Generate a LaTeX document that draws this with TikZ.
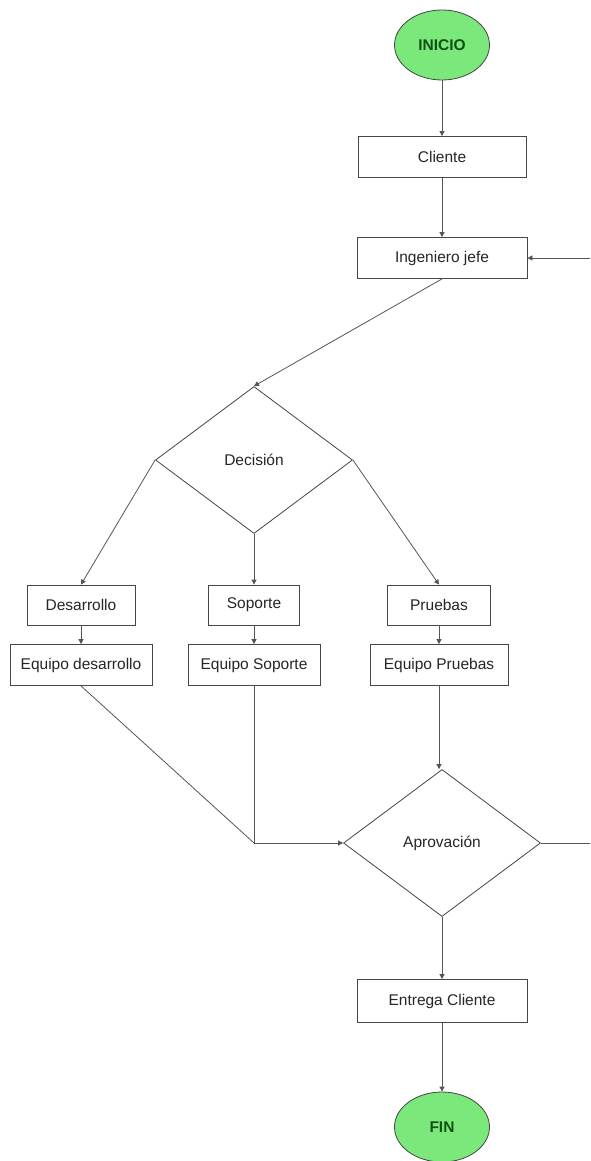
\documentclass[tikz,border=0pt]{standalone}
\usepackage{fontspec}
\setmainfont{Liberation Sans}
\usetikzlibrary{shapes.geometric,arrows.meta}
\definecolor{termfill}{RGB}{122,232,122}
\definecolor{termtext}{RGB}{20,80,20}
\definecolor{edge}{RGB}{70,70,70}
\definecolor{wire}{RGB}{85,85,85}
\tikzset{
  every node/.style={font=\fontsize{15.5}{18}\selectfont, text=black!85},
  term/.style={ellipse, draw=edge, line width=0.8pt, fill=termfill, minimum width=95pt, minimum height=70pt, inner sep=0pt, text=termtext, font=\fontsize{15.5}{18}\selectfont\bfseries},
  procbox/.style={rectangle, draw=edge, line width=0.8pt, fill=white, inner sep=0pt, minimum height=41pt},
  decide/.style={diamond, draw=edge, line width=0.8pt, fill=white, inner sep=0pt, minimum width=197pt, minimum height=147pt},
  conn/.style={draw=wire, line width=0.8pt, -{Triangle[length=5pt,width=5pt]}},
  wireline/.style={draw=wire, line width=0.8pt}
}
\begin{document}
\begin{tikzpicture}[x=1pt,y=-1pt]
\useasboundingbox[fill=white] (0,0) rectangle (590,1161);
\node[term] (inicio) at (442,45) {INICIO};
\node[procbox, minimum width=168pt] (cliente) at (442,157) {Cliente};
\node[procbox, minimum width=170pt] (ing) at (442,258) {Ingeniero jefe};
\node[decide] (dec) at (254,460) {Decisión};
\node[procbox, minimum width=108pt, minimum height=40pt] (des) at (81,605) {Desarrollo};
\node[procbox, minimum width=91pt, minimum height=40pt] (sop) at (254,605) {Soporte};
\node[procbox, minimum width=103pt, minimum height=40pt] (pru) at (439,605) {Pruebas};
\node[procbox, minimum width=142pt] (eqdes) at (81,665) {Equipo desarrollo};
\node[procbox, minimum width=132pt] (eqsop) at (254,665) {Equipo Soporte};
\node[procbox, minimum width=138pt] (eqpru) at (439,665) {Equipo Pruebas};
\node[decide] (apr) at (442,843) {Aprovación};
\node[procbox, minimum width=170pt, minimum height=43pt] (ent) at (442,1001) {Entrega Cliente};
\node[term] (fin) at (442,1127) {FIN};
\coordinate (inR) at (590,258);
\coordinate (outR) at (590,843);
\coordinate (join) at (254,843);
\draw[conn] (inicio) -- (cliente);
\draw[conn] (cliente) -- (ing);
\draw[conn] (inR) -- (ing.east);
\draw[conn] (ing.south) -- (dec.north);
\draw[conn] (dec.west) -- (des.north);
\draw[conn] (dec.south) -- (sop.north);
\draw[conn] (dec.east) -- (pru.north);
\draw[conn] (des) -- (eqdes);
\draw[conn] (sop) -- (eqsop);
\draw[conn] (pru) -- (eqpru);
\draw[wireline] (eqdes.south) -- (join);
\draw[wireline] (eqsop.south) -- (join);
\draw[conn] (join) -- (apr.west);
\draw[conn] (eqpru.south) -- (eqpru.south |- apr.north);
\draw[wireline] (apr.east) -- (outR);
\draw[conn] (apr.south) -- (ent.north);
\draw[conn] (ent.south) -- (fin.north);
\end{tikzpicture}
\end{document}
